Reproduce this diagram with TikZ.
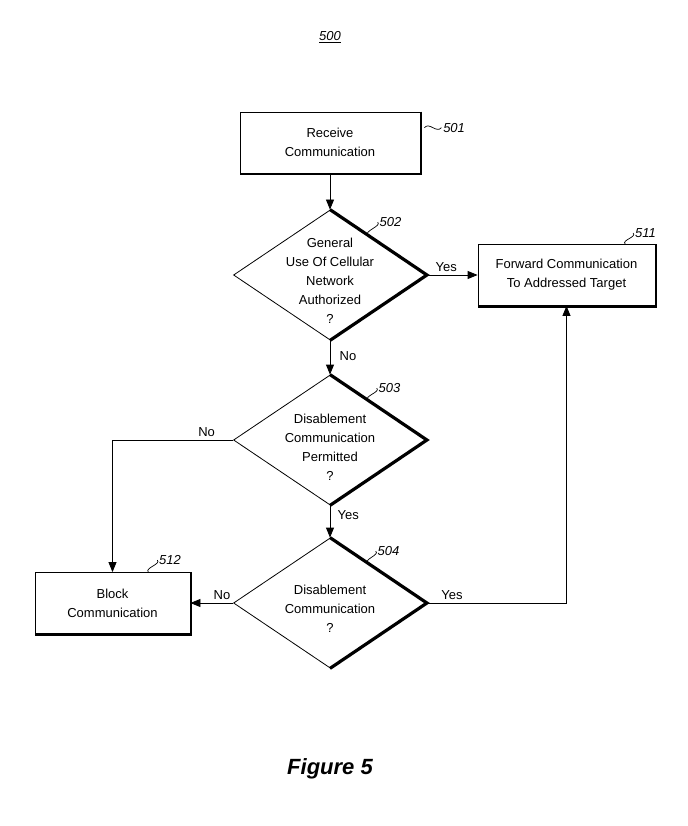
\documentclass[tikz,border=0pt]{standalone}
\usepackage{fontspec}
\setmainfont{Liberation Sans}
\usetikzlibrary{shapes.geometric, arrows.meta, calc}

\begin{document}
\begin{tikzpicture}[x=1pt, y=-1pt,
    every node/.style={font=\fontsize{13}{19}\selectfont},
    stepbox/.style={rectangle, draw, line width=0.8pt, fill=white, align=center, inner sep=0pt, minimum height=61pt},
    decision/.style={diamond, draw, line width=0.8pt, inner sep=0pt, minimum width=193pt, minimum height=130pt},
    ask/.style={align=center, inner sep=0pt},
    heavy/.style={line width=3.2pt},
    shade/.style={line width=1.8pt},
    flow/.style={-{Triangle[length=10pt, width=8pt]}, line width=0.8pt},
    wig/.style={line width=0.7pt},
    refno/.style={right, inner sep=1.5pt, font=\fontsize{13}{15}\selectfont\itshape}]
  \useasboundingbox (0,0) rectangle (687,826);

  % title and caption
  \node[font=\fontsize{13}{15}\selectfont\itshape] (fig) at (330,37) {\underline{500}};
  \node[font=\fontsize{22}{26}\selectfont\bfseries\itshape] (cap) at (330,769) {Figure 5};

  % steps
  \node[stepbox, minimum width=180pt] (b501) at (330,142.5) {Receive\\Communication};
  \node[decision] (q502) at (330,275) {};
  \node[ask] (t502) at ($(q502)+(0,6)$) {General\\Use Of Cellular\\Network\\Authorized\\?};
  \node[stepbox, minimum width=177pt] (b511) at (566.5,275) {Forward Communication\\To Addressed Target};
  \node[decision] (q503) at (330,440) {};
  \node[ask] (t503) at ($(q503)+(0,7)$) {Disablement\\Communication\\Permitted\\?};
  \node[decision] (q504) at (330,603) {};
  \node[ask] (t504) at ($(q504)+(0,6)$) {Disablement\\Communication\\?};
  \node[stepbox, minimum width=155pt] (b512) at (112.5,603) {Block\\Communication};

  % shadow on the boxes
  \foreach \b in {b501,b511,b512}
    \draw[shade] ([xshift=1pt]\b.north east) -- ([xshift=1pt,yshift=-1pt]\b.south east) -- ([yshift=-1pt]\b.south west);

  % heavy right edges of the decisions
  \foreach \q in {q502,q503,q504}
    \draw[heavy] (\q.north) -- (\q.east) -- (\q.south);

  % flow
  \draw[flow] (b501.south) -- (q502.north);
  \draw[flow] (q502.east) -- node[above, pos=0.38] (y502) {Yes} (b511.west);
  \draw[flow] (q502.south) -- node[right, pos=0.46, xshift=6pt] (n502) {No} (q503.north);
  \draw[flow] (q503.west) -| node[above, pos=0.11] (n503) {No} (b512.north);
  \draw[flow] (q503.south) -- node[right, pos=0.3, xshift=4pt] (y503) {Yes} (q504.north);
  \draw[flow] (q504.west) -- node[above, pos=0.26] (n504) {No} (b512.east);
  \draw[flow] (q504.east) -| node[above, pos=0.09] (y504) {Yes} (b511.south);

  % reference numbers
  \draw[wig] ($(b501.north east)!0.26!(b501.south east)+(4,0)$) .. controls +(5,-6) and +(-5,6) .. ++(17,0) node[refno] (r501) {501};
  \draw[wig] ($(q502.north)!0.39!(q502.east)$) .. controls +(-4,-4) and +(4,4) .. ++(10,-13) node[refno] (r502) {502};
  \draw[wig] ($(q503.north)!0.39!(q503.east)$) .. controls +(-4,-4) and +(4,4) .. ++(9,-12) node[refno] (r503) {503};
  \draw[wig] ($(q504.north)!0.39!(q504.east)$) .. controls +(-4,-4) and +(4,4) .. ++(8,-12) node[refno] (r504) {504};
  \draw[wig] ($(b511.north west)!0.83!(b511.north east)$) .. controls +(-4,-4) and +(4,4) .. ++(8,-11) node[refno] (r511) {511};
  \draw[wig] ($(b512.north west)!0.73!(b512.north east)$) .. controls +(-4,-4) and +(4,4) .. ++(9,-12) node[refno] (r512) {512};
\end{tikzpicture}
\end{document}
